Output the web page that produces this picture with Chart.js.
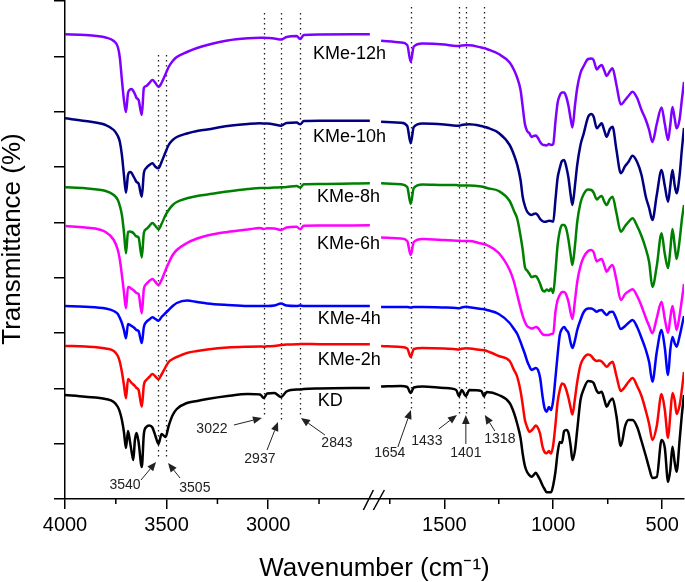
<!DOCTYPE html>
<html><head><meta charset="utf-8">
<script src="https://cdn.jsdelivr.net/npm/chart.js@4.4.1/dist/chart.umd.min.js"></script>
<style>html,body{margin:0;padding:0;background:#fff}canvas{display:block}</style>
</head><body><canvas id="c" width="685" height="582"></canvas>
<script>
// ---- data: wavenumbers (cm-1) for the two panels of the broken axis ----
const wnLeft = [4000,3900,3800,3760,3740,3730,3720,3710,3700,3690,3680,3672,3664,3656,3648,3638,3622,3612,3600,3585,3570,3555,3540,3525,3505,3490,3470,3450,3400,3350,3300,3200,3100,3040,3022,3005,2970,2937,2910,2860,2843,2825,2750,2500];
const wnRight = [1790,1700,1670,1654,1640,1600,1500,1445,1433,1420,1401,1385,1330,1318,1305,1250,1200,1180,1165,1150,1140,1130,1120,1110,1100,1090,1080,1070,1060,1050,1040,1030,1020,1010,1000,990,980,970,960,950,940,930,920,912,900,890,875,860,840,825,815,800,790,778,765,755,740,728,710,690,670,655,636,615,595,575,560,545,525,503,488,473,463,453,443,434,420,410,400];

// ---- transmittance (a.u., stacked) ----
const kme12_L = [464.7,464,461.5,458,452,441,419,399,387,406,409.5,410,408,405,401,399,384,411,413,416,419,416,412,416,425,432,438,442,447,451,454,458.5,460.7,461.3,461.2,461,460.5,459.5,462,463,460,464,464.5,464.7];
const kme12_R = [458.3,456.5,454,437.3,452.5,455.5,454.5,453,453,453.5,453.7,453.7,451.5,451,450,445,436.5,429,421,409,392,375,368,366,362,363,363.5,361,357,354.5,354,353.5,355,354,355,377,396,403.5,406.5,406.5,402,393,380,371.5,394,411,426,433,440,440.5,439,429.5,432,434,428,423,428,430.7,414,394.5,399,403,407.3,401,389,379,369,357,375,391.5,375,359,374,392,381,370.7,380,399,417];

const kme10_L = [380.7,378,374,369,363,357,344,324,306.3,324,327,326,323,320,317,315.5,302.3,326,331,334,335.7,332.3,330.7,337,347,354,359,362,365.5,368,369.5,373,375,375.7,375.5,375.4,374.5,373.3,376,376.5,374.7,378,378.3,378.3];
const kme10_R = [377.3,376.3,373,355.7,372,375.5,374.5,373.3,373.3,374,374.5,374.8,373,372.3,371.5,366,354,344,334,319,302,293,287.5,285,284,285,285.5,283.5,280,278,277.3,277.5,278.3,278,277.3,299,321,331,338,339,332,321,304,294,314,334,354,365.7,382,385,382.5,370.7,373,375.7,368,362.3,370,372.3,349,325.7,333,337,343.3,337,324,302,291,279,304,329,313,297.3,313,329,314,305.7,324,349,371];

const kme8_L = [311.7,310.7,308,304,299,293,284,267,245.7,267,267.5,267,266,264,262.5,261.5,241.5,266,270,273,276,273,269.7,275,284,289,294,297,300.7,303,304.5,307.5,310,311,311,311,311.5,311.7,312,313,311.5,314.7,315,315.7];
const kme8_R = [315.7,314.7,312,295,311,314.5,314,314,313.5,313.5,313.5,313.5,312.5,312,311,308,298,288,280,263,249,232,228.5,225.5,222,222.5,223,220,215,209,207.5,209.5,208,210.5,206,227,254,268,274,274,270,259,244,234,254,277,296,305,309.5,309,306.5,299.5,301.5,303,297,294,300,302.3,286,267.3,273,277,280.7,273,263,250,237,212,233,265.7,245,231,249,270,254,240,259,279,294];

const kme6_L = [273,271.5,267,259,249,239,224,207,190.7,212,211.5,210,209,207.5,206,205,185.7,210,215,218,220,217,214,219,229,236,244,249,256,260.5,263.5,267,269.5,271,270,270.7,270.5,269,271.5,272.3,269.7,273.3,273.5,273.7];
const kme6_R = [261.5,260.5,258,244,257,260,259,258.3,258.3,258,258,258,255.5,255,254,246,229,217,204,191,183,177,173,171.5,170.5,171,172,171,168,165,164,164,164,165,165.5,187,199,204,207,207,204,197,186,180,199,217,233,242,248,249,247,237.5,239,240,233,227.3,232,234,219,199,205,207.5,209.7,203,193,181,173,165.7,181,197.3,180,166.3,181,193,181,169,184,199,215];

const kme4_L = [193,192.3,190.5,188,185,181,176,169,160.7,175,174,173,172,170.5,169,168,156,172,177,179.5,181.7,180,178.3,182,186,189,193,196,198.5,197,195.5,194,193,193,193,193,193.5,195.5,193.5,193,193.5,193,193,193];
const kme4_R = [192,192,192,191.5,192,192,191.5,191,190.7,191.5,192.2,191.7,190,189.7,189,185,176,170,165,157,151,145,138,133,129,130,131,129,121,104,91,87.3,92,89,99,121,144,164,170,172,169,166,156,151,159,169,179,187,190.5,190.5,189.5,187.3,188.5,189,186,184,187,187.3,180,170,173,176,179,172,161,149,137,117.3,147,169,151,124,149,162,156,152.3,163,173,183];

const kme2_L = [153,152.5,150.5,148,143,137,127,114,100.7,120,118,116,114.5,113,111,109,92.3,114,119,122,125,122.5,119.7,124.5,132,137,140,142,146,148,149.5,151.5,152.3,152.5,152.3,152.7,153,154,154.5,154.7,155,155,154.8,154.7];
const kme2_R = [153,152,150.5,142,150,151,150.5,149.7,149.5,150.2,150.7,150.5,149,148.7,148,143,138,129,122,108,94,79,72,67.3,68.5,71,73.5,71,65,53,47,45.7,48,45.5,54,74,97,109,115.5,114.5,109,101,91,84.5,101,117,134,141,144.5,143,140,138,138.5,137.5,134.5,132.3,135.5,137.3,123,108,112.5,117,121,113,103,88,75,59,73,105,89,61,84,106,99,85,94,109,127];

const kd_L = [104,102.3,100,97,92,87,79,67,51,68,57,47,39,59,66,57,32,65,72,73.5,71.5,63,55,65,62,73,84,90,96,98,100,103,105,104.5,101,105.5,106,102,107.5,109.5,109.5,110,110.5,111];
const kd_R = [112.5,113,112,106,111.5,112.5,111,109,103,109,103,109,108,103,107,104,96,86,75,61,45,33,27,24,22.3,24,26.3,23,19,14,10,6.7,6.7,6.7,14,27,46,57,56,68,69,66,53,39,49,69,99,110,118,117.5,116,108,106,107.3,99,92.3,98,100.5,83,53,73,79,79,72,58,43,31,21,22,59,51,17,29,52.3,37,27.3,59,84,104];

const seriesNames = ['KMe-12h','KMe-10h','KMe-8h','KMe-6h','KMe-4h','KMe-2h','KD'];
const seriesLeft = [kme12_L,kme10_L,kme8_L,kme6_L,kme4_L,kme2_L,kd_L];
const seriesRight = [kme12_R,kme10_R,kme8_R,kme6_R,kme4_R,kme2_R,kd_R];
const seriesColors = ['#8000FF','#000080','#008000','#FF00FF','#0000FF','#FF0000','#000000'];
const labelWn = [2780,2780,2760,2760,2756,2756,2756];
const labelY = [445,362,302,255,180,139,98];

// ---- axis ticks ----
const xMajorTicks = [4000,3500,3000,1500,1000,500];
const xMinorTicks = [3750,3250,2750,1750,1250,750];
const yMax = 498, yIntervals = 9;

// ---- band markers & annotations ----
const bandWn = [3540,3505,3022,2937,2843,1654,1433,1401,1318];
const bandTop = [444,444,486,486,486,492,492,492,492];
const bandBottom = [39,39,82,78,82,88,85,85,87];
const annoText = ['3540','3505','3022','2937','2843','1654','1433','1401','1318'];
const annoWn = [3705,3361,3277,3041,2662,1750,1580,1401,1245];
const annoY = [14,11,70,40,56,46,58,46,60];
const arrowFromWn = [3626,3434,3169,3006,2721,1713,1525,1401,1268];
const arrowFromY = [19,21,74,49,64,52,70,55,68];
const arrowToWn = [3552,3493,3031,2952,2839,1653,1442,1401,1314];
const arrowToY = [37,36,81,77,81,89,84,84,84];

// broken axis: 4000-2500 and 1800-400
const LEFT_END = 2500, RIGHT_START = 1800;
function pos(w){ return w >= LEFT_END ? 4000 - w : 1544.5 + (RIGHT_START - w) * 1.0723; }
const X_MAX = pos(400);
const FONT = '"Liberation Sans", Arial, sans-serif';

const datasets = seriesNames.map((n,i)=>({
  label: n,
  data: [
    ...wnLeft.map((w,j)=>({x:pos(w), y:seriesLeft[i][j]})),
    {x:(pos(LEFT_END)+pos(RIGHT_START))/2, y:null},
    ...wnRight.map((w,j)=>({x:pos(w), y:seriesRight[i][j]}))
  ],
  borderColor: seriesColors[i],
  borderWidth: 2.5,
  pointRadius: 0,
  fill: false,
  spanGaps: false,
  cubicInterpolationMode: 'monotone'
}));

const extras = {
  id: 'extras',
  beforeDatasetsDraw(chart){
    const {ctx, scales:{x,y}} = chart;
    ctx.save();
    ctx.strokeStyle = '#222'; ctx.lineWidth = 1.3; ctx.setLineDash([1.6,3.4]);
    bandWn.forEach((w,i)=>{
      const px = Math.round(x.getPixelForValue(pos(w))) + 0.5;
      ctx.beginPath();
      ctx.moveTo(px, y.getPixelForValue(bandTop[i]));
      ctx.lineTo(px, y.getPixelForValue(bandBottom[i]));
      ctx.stroke();
    });
    ctx.restore();
  },
  afterDraw(chart){
    const {ctx, scales:{x,y}, chartArea:a} = chart;
    ctx.save();
    ctx.strokeStyle = '#000'; ctx.lineWidth = 1.5;
    xMinorTicks.forEach(w=>{
      const px = x.getPixelForValue(pos(w));
      ctx.beginPath(); ctx.moveTo(px, a.bottom); ctx.lineTo(px, a.bottom + 5); ctx.stroke();
    });
    // axis break marks
    const c = x.getPixelForValue((pos(LEFT_END)+pos(RIGHT_START))/2);
    const b = a.bottom;
    ctx.beginPath(); ctx.moveTo(c-11, b+11); ctx.lineTo(c-1, b-9); ctx.stroke();
    ctx.beginPath(); ctx.moveTo(c-1, b+11); ctx.lineTo(c+10, b-9); ctx.stroke();

    // series labels
    ctx.fillStyle = '#000'; ctx.font = '18px ' + FONT;
    ctx.textAlign = 'left'; ctx.textBaseline = 'middle';
    seriesNames.forEach((n,i)=>{
      ctx.fillText(n, x.getPixelForValue(pos(labelWn[i])), y.getPixelForValue(labelY[i]));
    });

    // annotations with arrows
    ctx.font = '14px ' + FONT; ctx.textAlign = 'center'; ctx.fillStyle = '#222';
    ctx.strokeStyle = '#222'; ctx.lineWidth = 1;
    annoText.forEach((t,i)=>{
      ctx.fillText(t, x.getPixelForValue(pos(annoWn[i])), y.getPixelForValue(annoY[i]));
      const x1 = x.getPixelForValue(pos(arrowFromWn[i])), y1 = y.getPixelForValue(arrowFromY[i]);
      const x2 = x.getPixelForValue(pos(arrowToWn[i])), y2 = y.getPixelForValue(arrowToY[i]);
      const ang = Math.atan2(y2-y1, x2-x1), hl = 9, hw = 3.8;
      const bx = x2 - hl*Math.cos(ang), by = y2 - hl*Math.sin(ang);
      ctx.beginPath(); ctx.moveTo(x1,y1); ctx.lineTo(bx,by); ctx.stroke();
      ctx.beginPath();
      ctx.moveTo(x2,y2);
      ctx.lineTo(bx + hw*Math.sin(ang), by - hw*Math.cos(ang));
      ctx.lineTo(bx - hw*Math.sin(ang), by + hw*Math.cos(ang));
      ctx.closePath(); ctx.fill();
    });

    // y axis title
    ctx.fillStyle = '#000'; ctx.font = '26px ' + FONT;
    ctx.textAlign = 'center'; ctx.textBaseline = 'alphabetic';
    ctx.translate(19.5, 239); ctx.rotate(-Math.PI/2);
    ctx.fillText('Transmittance (%)', 0, 0);
    ctx.restore();
  }
};

new Chart(document.getElementById('c'), {
  type: 'line',
  data: { datasets },
  options: {
    responsive: false,
    devicePixelRatio: 1,
    animation: false,
    layout: { padding: { top: 1, right: 1, left: 0, bottom: 0 } },
    plugins: { legend: { display: false }, tooltip: { enabled: false } },
    scales: {
      x: {
        type: 'linear', min: 0, max: X_MAX,
        afterBuildTicks: s => { s.ticks = xMajorTicks.map(w=>({value: pos(w)})); },
        afterFit: s => { s.height = 83; },
        ticks: { autoSkip: false, maxRotation: 0, padding: 4, color: '#000',
                 font: { family: FONT, size: 20 }, callback: (v,i) => String(xMajorTicks[i]) },
        grid: { drawOnChartArea: false, drawTicks: true, tickLength: 10, color: '#000', lineWidth: 1.5 },
        border: { display: true, color: '#000', width: 1.5 },
        title: { display: true, text: 'Wavenumber (cm\u207B\u00B9)', color: '#000',
                 font: { family: FONT, size: 26, lineHeight: 1 }, padding: { top: 0, bottom: 0 } }
      },
      y: {
        type: 'linear', min: 0, max: yMax,
        afterBuildTicks: s => { s.ticks = Array.from({length: yIntervals+1}, (_,i)=>({value: i*yMax/yIntervals})); },
        afterFit: s => { s.width = 65; },
        ticks: { display: false },
        grid: { drawOnChartArea: false, drawTicks: true, tickLength: 11, color: '#000', lineWidth: 1.5 },
        border: { display: true, color: '#000', width: 1.5 }
      }
    }
  },
  plugins: [extras]
});
</script></body></html>
